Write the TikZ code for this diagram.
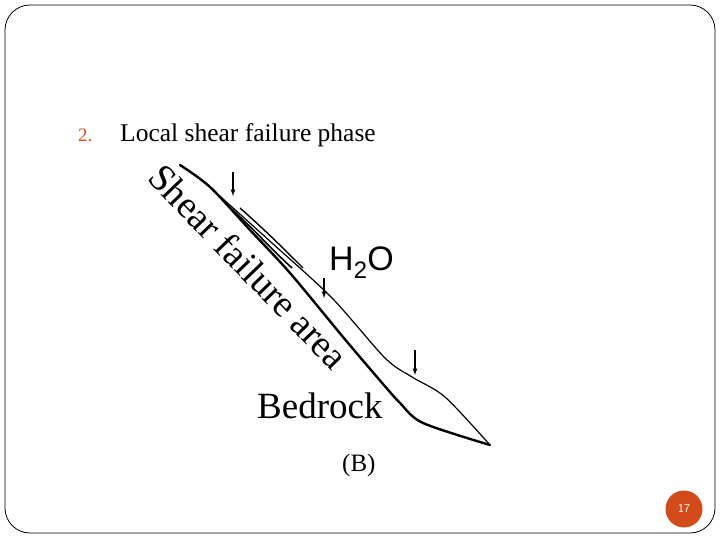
\documentclass[tikz,border=0pt]{standalone}
\usepackage{fontspec}
\setmainfont{Liberation Serif}
\newfontfamily\arialf{Liberation Sans}
\definecolor{accent}{HTML}{D24B1A}
\begin{document}
\begin{tikzpicture}[x=1pt,y=-1pt,
  lbl/.style={inner sep=0pt,anchor=base west},
  dn/.style={-latex,line width=1.2pt}]
\useasboundingbox (0,0) rectangle (720,540);
\draw[line width=0.8pt,rounded corners=25] (5,5) rectangle (715,533);
\node[lbl,text=accent,font=\fontsize{19}{22}\selectfont] (num) at (78,142) {2.};
\node[lbl,font=\fontsize{25.5}{28}\selectfont] (title) at (120,142) {Local shear failure phase};
% slope lines
\draw[line width=2.4pt,line cap=round] plot[smooth,tension=0.5] coordinates
  {(180,165) (210,187) (250,230) (290,273) (343,337) (377,377) (400,403) (423,423) (490,445)};
\draw[line width=1.2pt] plot[smooth,tension=0.5] coordinates
  {(213,190) (272,243) (332,298) (385,358) (412,377) (445,397) (490,445)};
\draw[line width=1.6pt] (225,203) .. controls (255,230) and (270,248) .. (292,268);
\draw[line width=1.4pt] (240,208) .. controls (265,230) and (285,250) .. (303,268);
\draw[dn] (233,172) -- (233,196);
\draw[dn] (324,278) -- (324,298);
\draw[dn] (415,350) -- (415,375);
\node[lbl,rotate=-46,font=\fontsize{38}{40}\selectfont] (sfa) at (146,179) {Shear failure area};
\node[lbl,font=\arialf\fontsize{34}{36}\selectfont] (h2o) at (329,270) {H\textsubscript{2}O};
\node[lbl,font=\fontsize{37}{40}\selectfont] (bed) at (257,418) {Bedrock};
\node[lbl,font=\fontsize{25}{28}\selectfont] (b) at (342,471) {(B)};
\node[circle,fill=accent,minimum size=37pt,inner sep=0pt,text=white,font=\sffamily\fontsize{12}{14}\selectfont] (pg) at (684,509) {17};
\end{tikzpicture}
\end{document}
